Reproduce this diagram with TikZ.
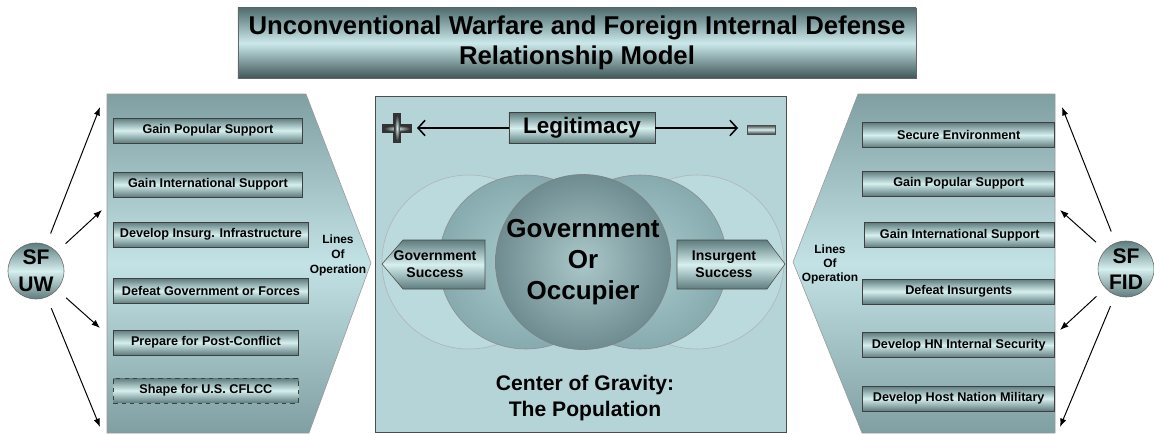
\documentclass[tikz,border=0pt]{standalone}
\usepackage{fontspec}
\setmainfont{Liberation Sans}
\usetikzlibrary{arrows.meta}

\definecolor{paneldark}{HTML}{809FA2}
\definecolor{panellight}{HTML}{C2E2E5}
\definecolor{boxdark}{HTML}{5E7C7E}
\definecolor{boxlight}{HTML}{D6EFEF}
\definecolor{titledark}{HTML}{4F6D6E}
\definecolor{titlelight}{HTML}{CBE9EB}
\definecolor{centerfill}{HTML}{B4D4D7}
\definecolor{outerfill}{HTML}{BBDADD}
\definecolor{midlight}{HTML}{AACDD0}
\definecolor{middark}{HTML}{86AAAD}
\definecolor{goclight}{HTML}{AAC7CA}
\definecolor{gocdark}{HTML}{6F8D90}

\begin{document}
\begin{tikzpicture}[x=0.025cm, y=-0.025cm,
	lopbox/.style={draw=black!75, top color=boxdark, bottom color=boxdark, middle color=boxlight, minimum height=0.62cm, inner sep=0pt, font=\fontsize{9}{10}\selectfont\bfseries},
	sfnode/.style={circle, draw=black!60, top color=boxdark, bottom color=boxdark, middle color=boxlight, minimum size=1.4cm, inner sep=0pt, align=center, font=\fontsize{15}{19}\selectfont\bfseries},
	link/.style={-{Latex[length=6pt,width=4.5pt]}, line width=0.7pt, shorten <=0.3cm},
	legarrow/.style={-{Straight Barb[length=5pt,width=11pt]}, line width=1.1pt}]
	
	\useasboundingbox (0,0) rectangle (1154,433);
	
	\node [draw=black!60, top color=titledark, bottom color=titledark!80!black, middle color=titlelight, minimum width=16.95cm, minimum height=1.75cm, align=center, font=\fontsize{18.3}{21}\selectfont\bfseries] (title) at (577,43) {Unconventional Warfare and Foreign Internal Defense\\Relationship Model};
	
	\draw [draw=black!40, top color=paneldark, bottom color=paneldark, middle color=panellight] (107,94) -- (306,94) -- (371,263) -- (309,433) -- (107,433) -- cycle;
	
	\draw [draw=black!40, top color=paneldark, bottom color=paneldark, middle color=panellight] (858,94) -- (1055,94) -- (1055,433) -- (862,433) -- (793,262) -- cycle;
	
	\draw [draw=black!70, fill=centerfill] (375,96) rectangle (786,432);
	
	\draw [draw=black!30, fill=outerfill] (469,262) circle [radius=87];
	
	\draw [draw=black!30, fill=outerfill] (697,262) circle [radius=87];
	
	\draw [draw=black!45, inner color=midlight, outer color=middark] (526,262) circle [radius=87];
	
	\draw [draw=black!45, inner color=midlight, outer color=middark] (640,262) circle [radius=87];
	
	\node [circle, draw=black!50, inner color=goclight, outer color=gocdark, minimum size=4.35cm, inner sep=0pt, align=center, font=\fontsize{18.5}{22}\selectfont\bfseries] (goc) at (583,262) {Government\\Or\\Occupier};
	
	\draw [draw=black!70, top color=boxdark, bottom color=boxdark, middle color=boxlight] (382,264) -- (403,240) -- (485,240) -- (485,289) -- (403,289) -- cycle;
	
	\node [align=center, font=\fontsize{10}{12}\selectfont\bfseries] (govsucc) at (435,264) {Government\\Success};
	
	\draw [draw=black!70, top color=boxdark, bottom color=boxdark, middle color=boxlight] (677,240) -- (767,240) -- (785,264) -- (767,289) -- (677,289) -- cycle;
	
	\node [align=center, font=\fontsize{10}{12}\selectfont\bfseries] (inssucc) at (724,264) {Insurgent\\Success};
	
	\node [lopbox, minimum width=3.65cm, minimum height=0.78cm, font=\fontsize{16}{19}\selectfont\bfseries] (legit) at (582,128) {Legitimacy};
	
	\coordinate (plus) at (417,128);
	
	\coordinate (minus) at (738,128);
	
	\draw [legarrow] (legit) -- (plus);
	
	\draw [legarrow] (legit) -- (minus);
	
	\fill [black!80] (382,124) rectangle (412,133);
	
	\fill [black!80] (393,113) rectangle (401,143);
	
	\shade [inner color=boxlight, outer color=black!80] (384,125.5) rectangle (410,131.5);
	
	\shade [inner color=boxlight, outer color=black!80] (394.5,115) rectangle (399.5,141);
	
	\shade [draw=black!70, top color=black!75, bottom color=black!75, middle color=boxlight] (747,125) rectangle (775,134);
	
	\node [align=center, font=\fontsize{15}{18.5}\selectfont\bfseries] (cog) at (585,398) {Center of Gravity:\\The Population};
	
	\node [align=center, font=\fontsize{8.5}{10.7}\selectfont\bfseries] (lolleft) at (338,255) {Lines\\Of\\Operation};
	
	\node [align=center, font=\fontsize{8.5}{10}\selectfont\bfseries] (lolright) at (830,264) {Lines\\Of\\Operation};
	
	\node [lopbox, anchor=west, minimum width=4.73cm] (uw1) at (113,130.5) {Gain Popular Support};
	
	\node [lopbox, anchor=west, minimum width=4.73cm] (uw2) at (113,184.5) {Gain International Support};
	
	\node [lopbox, anchor=west, minimum width=4.88cm] (uw3) at (113,234.5) {Develop Insurg. Infrastructure};
	
	\node [lopbox, anchor=west, minimum width=4.88cm] (uw4) at (113,291) {Defeat Government or Forces};
	
	\node [lopbox, anchor=west, minimum width=4.63cm] (uw5) at (113,342.5) {Prepare for Post-Conflict};
	
	\node [lopbox, anchor=west, minimum width=4.63cm, dashed] (uw6) at (113,390.5) {Shape for U.S. CFLCC};
	
	\node [lopbox, anchor=east, minimum width=4.8cm] (fid1) at (1055,135) {Secure Environment};
	
	\node [lopbox, anchor=east, minimum width=4.8cm] (fid2) at (1055,183.5) {Gain Popular Support};
	
	\node [lopbox, anchor=east, minimum width=4.75cm] (fid3) at (1055,235) {Gain International Support};
	
	\node [lopbox, anchor=east, minimum width=4.8cm] (fid4) at (1055,291.5) {Defeat Insurgents};
	
	\node [lopbox, anchor=east, minimum width=4.8cm] (fid5) at (1055,345) {Develop HN Internal Security};
	
	\node [lopbox, anchor=east, minimum width=4.8cm] (fid6) at (1055,398.5) {Develop Host Nation Military};
	
	\node [sfnode] (uw) at (36,271) {SF\\UW};
	
	\node [sfnode] (fid) at (1126,269) {SF\\FID};
	
	\coordinate (uwa) at (100,107);
	
	\coordinate (uwb) at (102,210);
	
	\coordinate (uwc) at (100,328);
	
	\coordinate (uwd) at (100,427);
	
	\coordinate (fida) at (1062,107);
	
	\coordinate (fidb) at (1060,210);
	
	\coordinate (fidc) at (1060,330);
	
	\coordinate (fidd) at (1060,427);
	
	\draw [link] (uw) -- (uwa);
	
	\draw [link] (uw) -- (uwb);
	
	\draw [link] (uw) -- (uwc);
	
	\draw [link] (uw) -- (uwd);
	
	\draw [link] (fid) -- (fida);
	
	\draw [link] (fid) -- (fidb);
	
	\draw [link] (fid) -- (fidc);
	
	\draw [link] (fid) -- (fidd);
	
\end{tikzpicture}
\end{document}
